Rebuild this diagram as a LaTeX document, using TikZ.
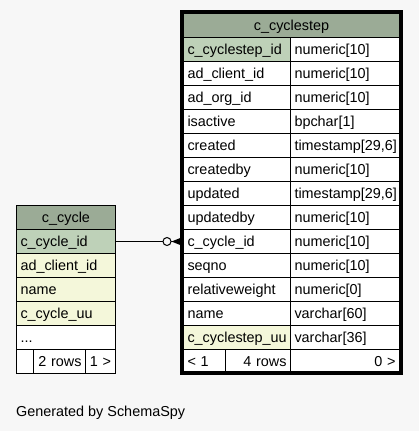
\documentclass[tikz,border=0pt]{standalone}
\usepackage{fontspec}
\setmainfont{Liberation Sans}
\usetikzlibrary{positioning}
\definecolor{zemin}{HTML}{F7F7F7}
\definecolor{baslikrenk}{HTML}{9BAB96}
\definecolor{anahtar}{HTML}{BED1B8}
\definecolor{indeks}{HTML}{F4F7DA}
\begin{document}
\begin{tikzpicture}[x=1pt, y=-1pt,
  hucre/.style={draw=black, line width=1pt, fill=white, anchor=north west,
    text width=#1, inner xsep=4pt, inner ysep=0pt, minimum height=24pt,
    text height=10pt, text depth=0pt, align=left,
    font=\fontsize{14.4}{16}\selectfont}]
  % --- zemin ve sinirlar ---
  \fill[zemin] (0,0) rectangle (419,431);
  \useasboundingbox (0,0) rectangle (419,431);
  \def\rh{24}  % satir yuksekligi

  % ---- 1) c_cyclestep tablosu ----
  \node[hucre=208pt, fill=baslikrenk, align=center] (sh) at (183,13) {c\_cyclestep};
  \foreach \ad/\tip/\renk [count=\i] in {
      c\_cyclestep\_id/numeric[10]/anahtar,
      ad\_client\_id/numeric[10]/white,
      ad\_org\_id/numeric[10]/white,
      isactive/bpchar[1]/white,
      created/{timestamp[29,6]}/white,
      createdby/numeric[10]/white,
      updated/{timestamp[29,6]}/white,
      updatedby/numeric[10]/white,
      c\_cycle\_id/numeric[10]/white,
      seqno/numeric[10]/white,
      relativeweight/numeric[0]/white,
      name/varchar[60]/white,
      c\_cyclestep\_uu/varchar[36]/indeks} {
    \node[hucre=99pt, fill=\renk] (sn\i) at (183,{13+\rh*\i}) {\ad};
    \node[hucre=101pt] (st\i) at (290,{13+\rh*\i}) {\tip};
  }
  \node[hucre=34pt] (sf1) at (183,349) {< 1};
  \node[hucre=57pt, align=right] (sf2) at (225,349) {4 rows};
  \node[hucre=101pt, align=right] (sf3) at (290,349) {0 >};
  \draw[line width=3.5pt] (181.5,11.5) rectangle (401,373);

  % ---- 2) c_cycle tablosu ----
  \node[hucre=91pt, fill=baslikrenk, align=center] (ch) at (16,205) {c\_cycle};
  \foreach \ad/\renk [count=\i] in {
      c\_cycle\_id/anahtar,
      ad\_client\_id/indeks,
      name/indeks,
      c\_cycle\_uu/indeks} {
    \node[hucre=91pt, fill=\renk] (cn\i) at (16,{205+\rh*\i}) {\ad};
  }
  \node[hucre=91pt] (cn5) at (16,325) {...};
  \node[hucre=9pt] (cf1) at (16,349) {};
  \node[hucre=44pt, align=right] (cf2) at (33,349) {2 rows};
  \node[hucre=22pt, align=center] (cf3) at (85,349) {1 >};

  % ---- 3) iliski: sifir veya cok ----
  \draw[line width=1pt] (cn1.east) -- (sn9.west);
  \node[circle, draw, line width=1pt, fill=zemin, minimum size=8pt, inner sep=0pt,
    left=11.5pt of sn9.west] (halka) {};
  \fill (halka.east) -- ++(10,-4) -- ++(0,8) -- cycle;

  \node[anchor=base west, inner sep=0pt, font=\fontsize{14.4}{16}\selectfont]
    (uretici) at (16,416) {Generated by SchemaSpy};
\end{tikzpicture}
\end{document}
